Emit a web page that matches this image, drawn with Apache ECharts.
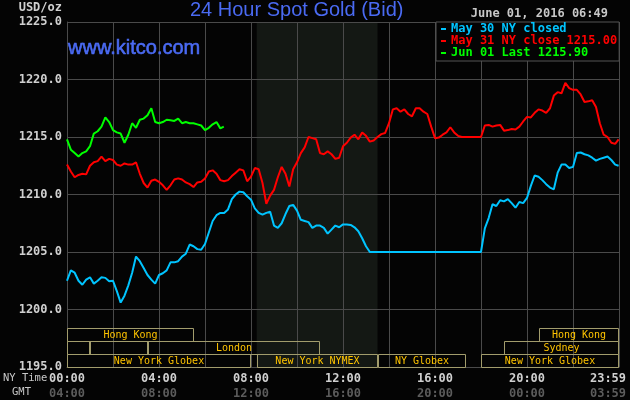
<!DOCTYPE html>
<html><head><meta charset="utf-8">
<script src="https://cdn.jsdelivr.net/npm/echarts@6/dist/echarts.min.js"></script>
<style>html,body{margin:0;padding:0;background:#040404}#c{width:630px;height:400px}</style>
</head><body><div id="c"></div>
<script>
// ---- data ----
const stepMinutes = 10;          // sampling step of the value arrays
const closeMinute = 1439;        // 23:59, time of the last value of full-day series
const jun01LastMinute = 409;     // 06:49, time of the last value of Jun 01

const may30 = [
 1202.5,1203.4,1203.2,1202.5,1202.15,1202.6,1202.8,1202.25,1202.5,1202.8,
 1202.75,1202.45,1202.5,1201.6,1200.6,1201.2,1202.1,1203.2,1204.6,1204.2,
 1203.6,1203.0,1202.6,1202.25,1203.0,1203.15,1203.4,1204.1,1204.1,1204.2,
 1204.6,1204.85,1205.65,1205.5,1205.25,1205.2,1205.7,1206.7,1207.7,1208.2,
 1208.4,1208.4,1208.7,1209.6,1210.0,1210.25,1210.2,1209.85,1209.55,1208.8,
 1208.4,1208.25,1208.4,1208.5,1207.3,1207.1,1207.5,1208.3,1209.0,1209.1,
 1208.6,1207.8,1207.7,1207.6,1207.1,1207.3,1207.3,1207.1,1206.6,1206.95,
 1207.3,1207.15,1207.4,1207.4,1207.35,1207.15,1206.8,1206.2,1205.5,1205.0,
 1205.0,1205.0,1205.0,1205.0,1205.0,1205.0,1205.0,1205.0,1205.0,1205.0,
 1205.0,1205.0,1205.0,1205.0,1205.0,1205.0,1205.0,1205.0,1205.0,1205.0,
 1205.0,1205.0,1205.0,1205.0,1205.0,1205.0,1205.0,1205.0,1205.0,
 1207.05,1207.95,1209.15,1209.0,1209.5,1209.4,1209.6,1209.25,1208.85,1209.35,1209.25,
 1209.7,1210.75,1211.65,1211.55,1211.25,1210.9,1210.6,1210.45,1211.9,1212.6,
 1212.6,1212.3,1212.4,1213.6,1213.65,1213.5,1213.4,1213.2,1212.95,1213.1,
 1213.2,1213.3,1213.0,1212.6,
 1212.5
];
const may31 = [
 1212.6,1212.0,1211.5,1211.7,1211.8,1211.75,1212.5,1212.8,1212.9,1213.3,
 1212.9,1213.1,1213.0,1212.6,1212.5,1212.7,1212.6,1212.6,1212.8,1211.8,
 1211.0,1210.6,1211.2,1211.3,1211.1,1210.8,1210.4,1210.8,1211.3,1211.4,
 1211.3,1211.05,1210.9,1210.65,1211.05,1211.1,1211.4,1212.0,1212.1,1211.8,
 1211.25,1211.15,1211.25,1211.6,1211.9,1212.2,1212.1,1211.15,1211.55,1212.3,
 1212.2,1211.0,1209.2,1209.9,1210.4,1211.5,1212.4,1211.8,1210.7,1212.2,
 1212.8,1213.6,1214.1,1215.0,1214.9,1214.8,1213.6,1213.5,1213.75,1213.5,
 1213.1,1213.2,1214.2,1214.5,1214.95,1215.2,1214.8,1215.4,1215.1,1214.6,
 1214.7,1215.0,1215.25,1215.35,1216.2,1217.4,1217.5,1217.2,1217.4,1217.0,
 1216.8,1217.5,1217.5,1217.2,1217.0,1215.9,1214.9,1214.95,1215.2,1215.4,
 1215.85,1215.4,1215.1,1215.0,1215.0,1215.0,1215.0,1215.0,1215.0,1216.0,
 1216.05,1215.9,1216.0,1216.05,1215.55,1215.6,1215.7,1215.65,1215.9,1216.35,
 1216.75,1216.7,1217.1,1217.4,1217.3,1217.1,1217.5,1218.6,1218.9,1218.8,
 1219.7,1219.25,1219.1,1219.1,1218.7,1218.05,1218.1,1218.2,1217.6,1216.2,
 1215.2,1215.0,1214.5,1214.4,
 1214.8
];
const jun01 = [
 1214.8,1213.9,1213.6,1213.3,1213.6,1213.75,1214.2,1215.3,1215.5,1215.9,
 1216.7,1216.3,1215.6,1215.4,1215.3,1214.5,1215.2,1216.2,1215.8,1216.5,
 1216.6,1216.9,1217.5,1216.3,1216.2,1216.3,1216.5,1216.45,1216.4,1216.6,
 1216.2,1216.3,1216.2,1216.2,1216.1,1216.0,1215.6,1215.8,1216.1,1216.3,
 1215.75,
 1215.9
];

const seriesNames = ['May 30 NY closed', 'May 31 NY close 1215.00', 'Jun 01 Last 1215.90'];
const nyTimeLabels = ['00:00','04:00','08:00','12:00','16:00','20:00','23:59'];
const gmtLabels    = ['04:00','08:00','12:00','16:00','20:00','00:00','03:59'];
const yMin = 1195, yMax = 1225, yStep = 5;

// trading sessions (NY time hours), row 0 = top row
const sessionName  = ['Hong Kong','','','London','New York Globex','New York NYMEX','NY Globex','New York Globex','Sydney','Hong Kong'];
const sessionStart = [0, 0, 1, 3.5, 0, 8.25, 13.5, 18, 19, 20.5];
const sessionEnd   = [5.5, 1, 3.5, 11, 8.0, 13.5, 17.35, 24, 24, 24];
const sessionRow   = [0, 1, 1, 1, 2, 2, 2, 2, 1, 0];
const nymexHours   = [8.25, 13.5];

const chartTitle = '24 Hour Spot Gold (Bid)';
const siteText = 'www.kitco.com';
const dateText = 'June 01, 2016 06:49';
const unitText = 'USD/oz';

// ---- chart ----
const MONO = '"DejaVu Sans Mono", monospace';
const SANS = '"Liberation Sans", Arial, sans-serif';
const colors = ['#00c4ff', '#ff0000', '#00ff00'];
const gridColor = '#4a4a4a';

function toPoints(values, lastMinute) {
  return values.map((v, i) => [(i === values.length - 1 ? lastMinute : i * stepMinutes) / 60, v]);
}

const chart = echarts.init(document.getElementById('c'), null, {renderer: 'canvas'});

const labelBase = {fontFamily: MONO, fontSize: 12, fontWeight: 'bold', lineHeight: 15};
const option = {
  backgroundColor: '#040404',
  animation: false,
  title: {
    text: chartTitle, left: 190, top: 0, padding: 0,
    textStyle: {color: '#4a6af2', fontSize: 20, fontWeight: 'normal', fontFamily: SANS}
  },
  legend: {
    orient: 'vertical', left: 436, top: 22,
    padding: [1, 2, 2, 5], itemGap: 0, itemWidth: 5, itemHeight: 2, icon: 'rect',
    backgroundColor: '#040404', borderColor: '#555555', borderWidth: 1,
    selectedMode: false,
    textStyle: {fontFamily: MONO, fontSize: 12, fontWeight: 'bold', lineHeight: 12},
    data: seriesNames.map((n, i) => ({name: n, textStyle: {color: colors[i]}}))
  },
  grid: {left: 67, right: 11, top: 22, bottom: 33, containLabel: false, outerBoundsMode: 'none'},
  xAxis: {
    type: 'value', min: 0, max: 24, interval: 2,
    axisLine: {show: true, lineStyle: {color: gridColor}},
    axisTick: {show: false},
    splitLine: {show: true, lineStyle: {color: gridColor, width: 1}},
    axisLabel: {
      show: true, margin: 4, showMinLabel: true, showMaxLabel: true, hideOverlap: false,
      formatter: v => {
        if (v % 4 !== 0) return '';
        const i = v / 4;
        if (i === nyTimeLabels.length - 1) return '{c|' + nyTimeLabels[i] + '}\n{d|' + gmtLabels[i] + '}';
        return '{a|' + nyTimeLabels[i] + '}\n{b|' + gmtLabels[i] + '}';
      },
      rich: {
        a: Object.assign({color: '#d0d0d0'}, labelBase),
        b: Object.assign({color: '#5c5c5c'}, labelBase),
        c: Object.assign({color: '#d0d0d0', padding: [0, 22, 0, 0]}, labelBase),
        d: Object.assign({color: '#5c5c5c', padding: [0, 22, 0, 0]}, labelBase)
      }
    }
  },
  yAxis: {
    type: 'value', min: yMin, max: yMax, interval: yStep,
    axisLine: {show: true, lineStyle: {color: gridColor}},
    axisTick: {show: false},
    splitLine: {show: true, lineStyle: {color: gridColor, width: 1}},
    axisLabel: {
      margin: 5, showMinLabel: true, showMaxLabel: true,
      color: '#d0d0d0', fontFamily: MONO, fontSize: 12, fontWeight: 'bold',
      formatter: v => v.toFixed(1)
    }
  },
  graphic: [
    {type: 'text', x: 62, y: 8, style: {text: unitText, fill: '#d0d0d0', font: 'bold 12px ' + MONO, textAlign: 'right', align: 'right', textVerticalAlign: 'middle', verticalAlign: 'middle'}},
    {type: 'text', x: 608, y: 14, style: {text: dateText, fill: '#c8c8c8', font: 'bold 12px ' + MONO, textAlign: 'right', align: 'right', textVerticalAlign: 'middle', verticalAlign: 'middle'}},
    {type: 'text', x: 68, y: 48, z: 50, style: {text: siteText, fill: '#4a6af2', font: '20px ' + SANS, stroke: '#4a6af2', lineWidth: 0.6, textAlign: 'left', align: 'left', textVerticalAlign: 'middle', verticalAlign: 'middle'}},
    {type: 'text', x: 3, y: 378, style: {text: 'NY Time', fill: '#c8c8c8', font: '10.5px ' + MONO, textAlign: 'left', align: 'left', textVerticalAlign: 'middle', verticalAlign: 'middle'}},
    {type: 'text', x: 12, y: 392, style: {text: 'GMT', fill: '#c8c8c8', font: '10.5px ' + MONO, textAlign: 'left', align: 'left', textVerticalAlign: 'middle', verticalAlign: 'middle'}}
  ],
  series: [
    {
      type: 'custom', name: 'nymex', z: -1, silent: true,
      data: [[nymexHours[0], nymexHours[1], yMin]],
      encode: {x: [0, 1], y: 2},
      renderItem: (params, api) => {
        const p0 = api.coord([api.value(0), yMax]);
        const p1 = api.coord([api.value(1), yMin]);
        return {type: 'rect', shape: {x: p0[0], y: p0[1], width: p1[0] - p0[0], height: p1[1] - p0[1]}, style: {fill: '#141814'}};
      }
    },
    {type: 'line', name: seriesNames[0], data: toPoints(may30, closeMinute), symbol: 'none', showSymbol: false, z: 3,
     lineStyle: {color: colors[0], width: 2}, itemStyle: {color: colors[0]}},
    {type: 'line', name: seriesNames[1], data: toPoints(may31, closeMinute), symbol: 'none', showSymbol: false, z: 3,
     lineStyle: {color: colors[1], width: 2}, itemStyle: {color: colors[1]}},
    {type: 'line', name: seriesNames[2], data: toPoints(jun01, jun01LastMinute), symbol: 'none', showSymbol: false, z: 4,
     lineStyle: {color: colors[2], width: 2}, itemStyle: {color: colors[2]}},
    {
      type: 'custom', name: 'sessions', z: 5, silent: true,
      data: sessionStart.map((s, i) => [s, sessionEnd[i], yMin]),
      encode: {x: [0, 1], y: 2},
      renderItem: (params, api) => {
        const i = params.dataIndex;
        const s = api.coord([api.value(0), yMin]);
        const e = api.coord([api.value(1), yMin]);
        const rowH = 13;
        const top = Math.round(s[1] - (3 - sessionRow[i]) * rowH) + 0.5;
        const x0 = Math.round(s[0]) + 0.5, x1 = Math.round(e[0]) - 0.5;
        return {type: 'group', children: [
          {type: 'rect', shape: {x: x0, y: top, width: x1 - x0, height: rowH}, style: {fill: 'none', stroke: '#a29c6c', lineWidth: 1}},
          {type: 'text', style: {text: sessionName[i], x: (x0 + x1) / 2, y: top + rowH / 2 + 0.5,
            textAlign: 'center', align: 'center', textVerticalAlign: 'middle', verticalAlign: 'middle',
            fill: '#ffc400', font: '10px ' + MONO}}
        ]};
      }
    }
  ]
};
chart.setOption(option);
</script>
</body></html>
